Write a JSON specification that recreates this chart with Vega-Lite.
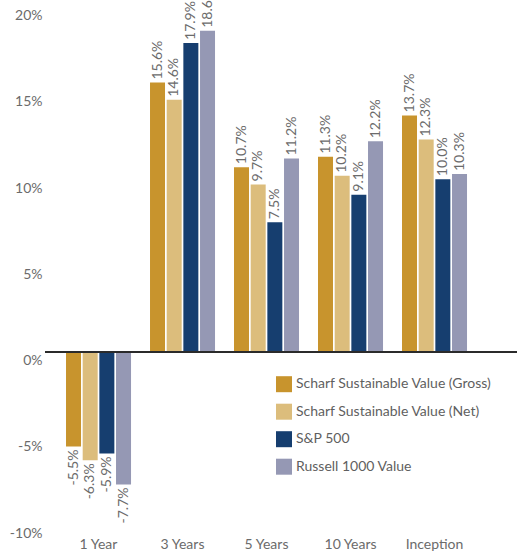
{
  "$schema": "https://vega.github.io/schema/vega-lite/v6.json",
  "width": 472,
  "height": 517.5,
  "autosize": "none",
  "padding": {"left": 45, "top": 6.7, "right": 0, "bottom": 34.8},
  "config": {
    "view": {"stroke": null},
    "font": "Lato",
    "locale": {"number": {"decimal": ".", "thousands": ",", "grouping": [3], "currency": ["$", ""], "minus": "-"}},
    "axis": {"labelFont": "Lato", "labelFontSize": 14, "labelColor": "#6b6b6b", "grid": false, "domain": false, "ticks": false, "title": null},
    "legend": {"labelFont": "Lato", "labelFontSize": 14, "labelColor": "#5f5f5f"}
  },
  "data": {
    "values": [
      {"period": "1 Year", "series": "Scharf Sustainable Value (Gross)", "v": -0.055},
      {"period": "1 Year", "series": "Scharf Sustainable Value (Net)", "v": -0.063},
      {"period": "1 Year", "series": "S&P 500", "v": -0.059},
      {"period": "1 Year", "series": "Russell 1000 Value", "v": -0.077},
      {"period": "3 Years", "series": "Scharf Sustainable Value (Gross)", "v": 0.156},
      {"period": "3 Years", "series": "Scharf Sustainable Value (Net)", "v": 0.146},
      {"period": "3 Years", "series": "S&P 500", "v": 0.179},
      {"period": "3 Years", "series": "Russell 1000 Value", "v": 0.186},
      {"period": "5 Years", "series": "Scharf Sustainable Value (Gross)", "v": 0.107},
      {"period": "5 Years", "series": "Scharf Sustainable Value (Net)", "v": 0.097},
      {"period": "5 Years", "series": "S&P 500", "v": 0.075},
      {"period": "5 Years", "series": "Russell 1000 Value", "v": 0.112},
      {"period": "10 Years", "series": "Scharf Sustainable Value (Gross)", "v": 0.113},
      {"period": "10 Years", "series": "Scharf Sustainable Value (Net)", "v": 0.102},
      {"period": "10 Years", "series": "S&P 500", "v": 0.091},
      {"period": "10 Years", "series": "Russell 1000 Value", "v": 0.122},
      {"period": "Inception", "series": "Scharf Sustainable Value (Gross)", "v": 0.137},
      {"period": "Inception", "series": "Scharf Sustainable Value (Net)", "v": 0.123},
      {"period": "Inception", "series": "S&P 500", "v": 0.100},
      {"period": "Inception", "series": "Russell 1000 Value", "v": 0.103}
    ]
  },
  "encoding": {
    "x": {
      "field": "period", "type": "nominal",
      "sort": ["1 Year", "3 Years", "5 Years", "10 Years", "Inception"],
      "scale": {"paddingInner": 0.226, "paddingOuter": 0.4226, "align": 0.296},
      "axis": {"labelAngle": 0, "labelPadding": 20, "labelBaseline": "middle", "orient": "bottom"}
    },
    "xOffset": {
      "field": "series", "type": "nominal",
      "sort": ["Scharf Sustainable Value (Gross)", "Scharf Sustainable Value (Net)", "S&P 500", "Russell 1000 Value"],
      "scale": {"paddingInner": 0.1, "paddingOuter": 0}
    },
    "y": {
      "field": "v", "type": "quantitative",
      "scale": {"domain": [-0.1, 0.2], "nice": false},
      "axis": {"format": ".0%", "values": [-0.1, -0.05, 0, 0.05, 0.1, 0.15, 0.2], "labelPadding": 3, "labelOffset": 9, "labelBaseline": "middle"}
    }
  },
  "layer": [
    {
      "mark": {"type": "bar"},
      "encoding": {
        "color": {
          "field": "series", "type": "nominal",
          "scale": {
            "domain": ["Scharf Sustainable Value (Gross)", "Scharf Sustainable Value (Net)", "S&P 500", "Russell 1000 Value"],
            "range": ["#c8942d", "#dcbd7c", "#163e6f", "#9598b4"]
          },
          "legend": {
            "title": null, "orient": "none", "legendX": 231, "legendY": 369.5,
            "symbolType": "square", "symbolSize": 256, "symbolStrokeWidth": 0, "symbolOpacity": 1,
            "rowPadding": 11.5, "labelOffset": 4, "padding": 0, "labelLimit": 300
          }
        }
      }
    },
    {
      "transform": [{"filter": "datum.v >= 0"}],
      "mark": {"type": "text", "angle": 270, "align": "left", "baseline": "middle", "dx": 3, "fontSize": 14, "color": "#6b6b6b"},
      "encoding": {"text": {"field": "v", "type": "quantitative", "format": ".1%"}}
    },
    {
      "transform": [{"filter": "datum.v < 0"}],
      "mark": {"type": "text", "angle": 270, "align": "right", "baseline": "middle", "dx": -3, "fontSize": 14, "color": "#6b6b6b"},
      "encoding": {"text": {"field": "v", "type": "quantitative", "format": ".1%"}}
    },
    {
      "mark": {"type": "rule", "color": "#2b2b2b", "strokeWidth": 1.5},
      "encoding": {"y": {"datum": 0}, "x": null, "xOffset": null}
    }
  ]
}
